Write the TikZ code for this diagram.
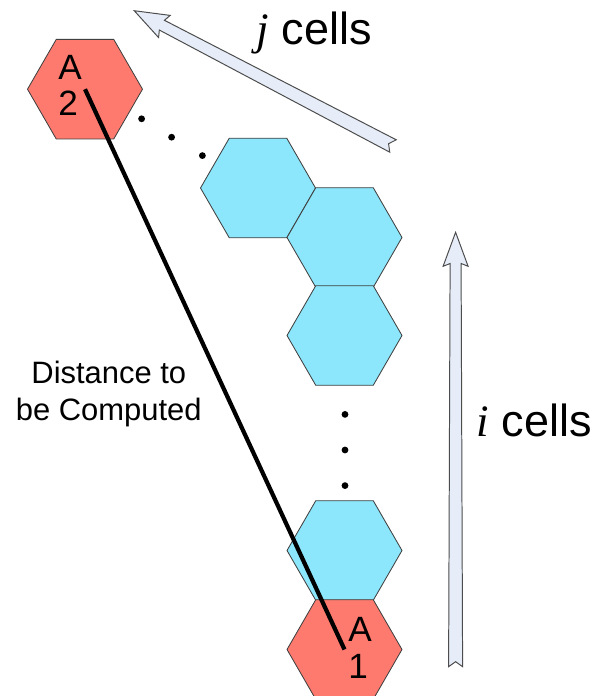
\documentclass[tikz,border=0pt]{standalone}
\usepackage{fontspec}
\setmainfont{Liberation Sans}
\newfontfamily\serifit{Liberation Serif}
\usetikzlibrary{shapes.geometric,calc}
\definecolor{cellred}{RGB}{255,122,110}
\definecolor{cellblue}{RGB}{140,231,252}
\definecolor{arrowfill}{RGB}{230,237,248}
% block arrow: tail point, angle, length
\newcommand{\cellarrow}[3]{%
  \draw[arrowbody,shift={#1},rotate=#2] (0,0.175) -- (#3-0.78,0.1375) -- (#3-0.85,0.3125) -- (#3,0)
    -- (#3-0.85,-0.3125) -- (#3-0.78,-0.1375) -- (0,-0.175) -- (0.125,0) -- cycle;}

\begin{document}
\begin{tikzpicture}[
  hexcell/.style={regular polygon,regular polygon sides=6,minimum size=2.875cm,inner sep=0pt,
                  draw=black!75,line width=0.6pt},
  arrowbody/.style={fill=arrowfill,draw=black!70,line width=0.7pt,line join=miter},
  celltag/.style={align=left,font=\fontsize{25}{26}\selectfont},
  bigtext/.style={font=\fontsize{32}{36}\selectfont}]
  \useasboundingbox (0,0) rectangle (15,17.4);
  % cells
  \node[hexcell,fill=cellblue] (B1) at (6.45,12.70) {};
  \node[hexcell,fill=cellblue] (B2) at (8.6125,11.4625) {};
  \node[hexcell,fill=cellblue] (B3) at (8.6125,9.0125) {};
  \node[hexcell,fill=cellblue] (B4) at (8.6125,3.6375) {};
  \node[hexcell,fill=cellred]  (A1) at (8.6125,1.1625) {};
  \node[hexcell,fill=cellred]  (A2) at (2.125,15.17) {};
  % ellipsis dots
  \foreach \p in {(3.54,14.43),(4.29,13.97),(5.06,13.51),(8.625,7.04),(8.625,6.15),(8.625,5.26)}
    \fill \p circle (0.085);
  % distance
  \draw[line width=3pt] (A2.center) -- (A1.center);
  \node[celltag] (A2tag) at (1.75,15.27) {A\\2};
  \node[celltag] (A1tag) at (9.0,1.2) {A\\1};
  \node[align=center,font=\fontsize{22}{26}\selectfont] (dist) at (2.72,7.55) {Distance to\\be Computed};
  % directions
  \cellarrow{(9.825,13.75)}{152.4}{7.3}
  \cellarrow{(11.39,0.7325)}{90}{10.86}
  \node[bigtext,anchor=base west] (jcells) at (6.3,16.275) {{\serifit\itshape j} cells};
  \node[bigtext,anchor=base west] (icells) at (11.8,6.475) {{\serifit\itshape i} cells};
\end{tikzpicture}
\end{document}
